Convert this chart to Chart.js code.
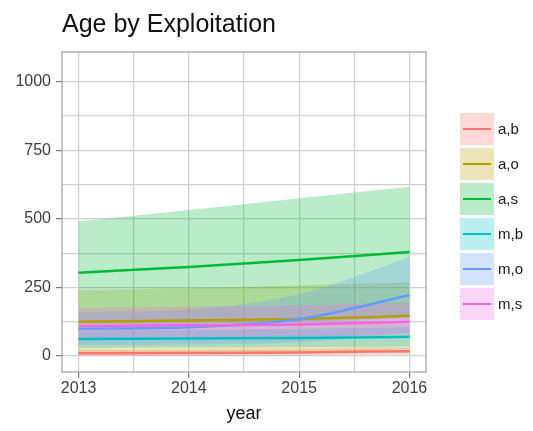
<!DOCTYPE html>
<html>
<head>
<meta charset="utf-8">
<script src="https://cdn.jsdelivr.net/npm/chart.js@4/dist/chart.umd.min.js"></script>
<style>
  html, body { margin: 0; padding: 0; background: #ffffff; }
  #wrap { width: 533px; height: 431px; }
</style>
</head>
<body>
<div id="wrap"><canvas id="c" width="533" height="431"></canvas></div>
<script>
// Years on the x axis
const years = [2013, 2014, 2015, 2016];

// Group labels (sex,exploitation)
const groups = ['a,b', 'a,o', 'a,s', 'm,b', 'm,o', 'm,s'];

// Mean age per group and year, with lower / upper band
const abMean = [10, 11, 13, 18];
const abLow  = [0, 1, 2, 6];
const abHigh = [22, 23, 25, 30];

const aoMean = [125, 130, 135, 147];
const aoLow  = [10, 12, 12, 26];
const aoHigh = [240, 248, 258, 268];

const asMean = [304, 325, 350, 379];
const asLow  = [118, 118, 125, 141];
const asHigh = [490, 532, 575, 617];

const mbMean = [62, 64, 66, 70];
const mbLow  = [30, 32, 33, 35];
const mbHigh = [95, 96, 99, 105];

const moMean = [100, 105, 135, 222];
const moLow  = [40, 42, 50, 85];
const moHigh = [160, 170, 225, 360];

const msMean = [110, 112, 115, 125];
const msLow  = [65, 68, 70, 80];
const msHigh = [175, 180, 185, 195];

// Axis ticks
const yTickLabels = [0, 250, 500, 750, 1000];
const yMinorTicks = [125, 375, 625, 875];
const xTickLabels = [2013, 2014, 2015, 2016];
const xMinorTicks = [2013.5, 2014.5, 2015.5];

const means = [abMean, aoMean, asMean, mbMean, moMean, msMean];
const lows  = [abLow, aoLow, asLow, mbLow, moLow, msLow];
const highs = [abHigh, aoHigh, asHigh, mbHigh, moHigh, msHigh];

const hues = ['#F8766D', '#B79F00', '#00BA38', '#00BFC4', '#619CFF', '#F564E3'];
function withAlpha(hex, a) {
  const n = parseInt(hex.slice(1), 16);
  return `rgba(${(n >> 16) & 255},${(n >> 8) & 255},${n & 255},${a})`;
}
const bandAlpha = 0.27;
const pts = arr => arr.map((v, i) => ({ x: years[i], y: v }));

const datasets = [];
// Mean lines (drawn above the bands)
groups.forEach((g, i) => {
  datasets.push({
    label: g,
    data: pts(means[i]),
    borderColor: hues[i],
    borderWidth: 2.5,
    pointRadius: 0,
    fill: false,
    cubicInterpolationMode: 'monotone',
    order: 10 - i
  });
});
// Bands: upper edge filled down to the lower edge that follows it
groups.forEach((g, i) => {
  datasets.push({
    label: g + ' upper',
    data: pts(highs[i]),
    borderWidth: 0,
    borderColor: 'rgba(0,0,0,0)',
    backgroundColor: withAlpha(hues[i], bandAlpha),
    pointRadius: 0,
    fill: '+1',
    cubicInterpolationMode: 'monotone',
    order: 30 - i
  });
  datasets.push({
    label: g + ' lower',
    data: pts(lows[i]),
    borderWidth: 0,
    borderColor: 'rgba(0,0,0,0)',
    pointRadius: 0,
    fill: false,
    cubicInterpolationMode: 'monotone',
    order: 30 - i
  });
});

const gridColor = '#cfcfcf';
const tickMarkColor = '#7a7a7a';
const fontFamily = "'Liberation Sans', Arial, Helvetica, sans-serif";

// Panel border and right-hand key
const panelAndKey = {
  id: 'panelAndKey',
  afterDatasetsDraw(chart) {
    const { ctx, chartArea: a } = chart;
    ctx.save();
    ctx.strokeStyle = '#a0a0a0';
    ctx.lineWidth = 1.2;
    ctx.strokeRect(a.left, a.top, a.right - a.left, a.bottom - a.top);
    ctx.restore();
  },
  afterDraw(chart) {
    const ctx = chart.ctx;
    const boxX = 460, boxW = 34, boxH = 32, pitch = 35, top0 = 113;
    ctx.save();
    groups.forEach((g, i) => {
      const y = top0 + i * pitch;
      ctx.fillStyle = withAlpha(hues[i], bandAlpha);
      ctx.fillRect(boxX, y, boxW, boxH);
      ctx.strokeStyle = hues[i];
      ctx.lineWidth = 2;
      ctx.beginPath();
      ctx.moveTo(boxX + 3, y + boxH / 2);
      ctx.lineTo(boxX + boxW - 3, y + boxH / 2);
      ctx.stroke();
      ctx.fillStyle = '#1a1a1a';
      ctx.font = '15px ' + fontFamily;
      ctx.textBaseline = 'middle';
      ctx.textAlign = 'left';
      ctx.fillText(g, boxX + boxW + 4, y + boxH / 2 + 1);
    });
    ctx.restore();
  }
};

new Chart(document.getElementById('c'), {
  type: 'line',
  data: { datasets },
  options: {
    responsive: false,
    animation: false,
    layout: { padding: { left: 0, right: 107, top: 0, bottom: 0 } },
    plugins: {
      legend: { display: false },
      tooltip: { enabled: false },
      filler: { propagate: false },
      title: {
        display: true,
        text: 'Age by Exploitation',
        align: 'start',
        fullSize: false,
        color: '#111111',
        font: { family: fontFamily, size: 25, weight: 'normal' },
        padding: { top: 10, bottom: 12 }
      }
    },
    scales: {
      x: {
        type: 'linear',
        min: 2012.85,
        max: 2016.15,
        afterBuildTicks(s) {
          s.ticks = xTickLabels.concat(xMinorTicks).sort((p, q) => p - q).map(v => ({ value: v }));
        },
        afterFit(s) { s.height = 59; },
        grid: {
          color: gridColor,
          lineWidth: 1.2,
          tickLength: 6,
          tickColor: ctx => xTickLabels.includes(ctx.tick && ctx.tick.value) ? tickMarkColor : 'rgba(0,0,0,0)'
        },
        border: { display: false },
        ticks: {
          autoSkip: false,
          maxRotation: 0,
          padding: 1,
          color: '#3d3d3d',
          font: { family: fontFamily, size: 16 },
          callback: v => xTickLabels.includes(v) ? String(v) : ''
        },
        title: {
          display: true,
          text: 'year',
          color: '#111111',
          font: { family: fontFamily, size: 18 },
          padding: { top: 0, bottom: 6 }
        }
      },
      y: {
        type: 'linear',
        min: -58,
        max: 1108,
        afterBuildTicks(s) {
          s.ticks = yTickLabels.concat(yMinorTicks).sort((p, q) => p - q).map(v => ({ value: v }));
        },
        afterFit(s) { s.width = 62; },
        grid: {
          color: gridColor,
          lineWidth: 1.2,
          tickLength: 6,
          tickColor: ctx => yTickLabels.includes(ctx.tick && ctx.tick.value) ? tickMarkColor : 'rgba(0,0,0,0)'
        },
        border: { display: false },
        ticks: {
          autoSkip: false,
          padding: 5,
          color: '#3d3d3d',
          font: { family: fontFamily, size: 16 },
          callback: v => yTickLabels.includes(v) ? String(v) : ''
        }
      }
    }
  },
  plugins: [panelAndKey]
});
</script>
</body>
</html>
